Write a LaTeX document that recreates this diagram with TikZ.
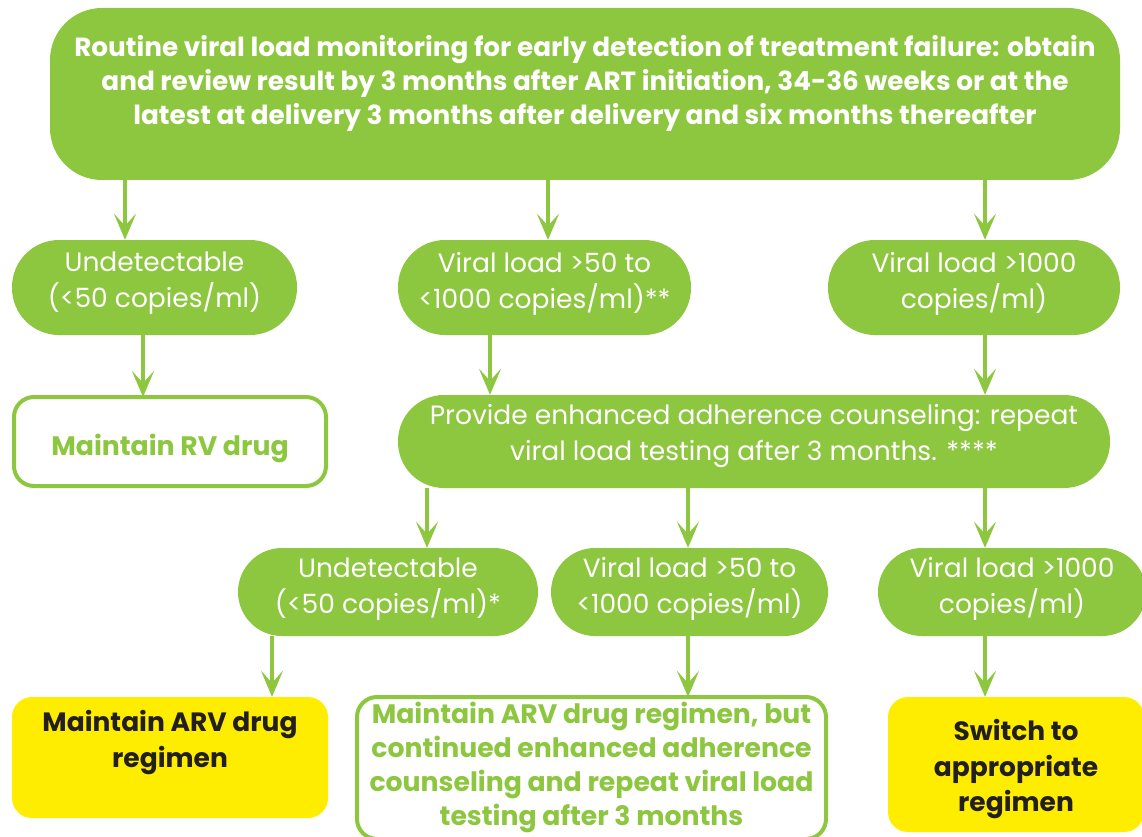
\documentclass[tikz,border=0pt]{standalone}
\usepackage{fontspec}
\setmainfont{Poppins}
\usetikzlibrary{arrows.meta}
\definecolor{vgreen}{HTML}{8DC63F}
\definecolor{vyellow}{HTML}{FFED00}
\definecolor{vdark}{HTML}{231F20}
\begin{document}
\begin{tikzpicture}[x=1pt,y=-1pt,
  pill/.style={fill=vgreen,draw=none,rounded corners=#1,inner sep=0pt},
  wbox/.style={fill=white,draw=vgreen,line width=4pt,rounded corners=20pt,inner sep=0pt},
  ybox/.style={fill=vyellow,draw=none,rounded corners=20pt,inner sep=0pt},
  wtxt/.style={text=white,align=center,font=\fontsize{26.5}{36}\selectfont,inner sep=0pt},
  btxt/.style={text=white,align=center,font=\fontsize{26.3}{34}\selectfont\bfseries,inner sep=0pt},
  gtxt/.style={text=vgreen,align=center,font=\fontsize{26.7}{34}\selectfont\bfseries,inner sep=0pt},
  dtxt/.style={text=vdark,align=center,font=\fontsize{26.5}{35.5}\selectfont\bfseries,inner sep=0pt},
  arr/.style={draw=vgreen,line width=4.5pt,-{Stealth[length=26pt,width=22pt,inset=12pt]}}]
\useasboundingbox (0,0) rectangle (1142,837);
% boxes
\node[pill=52pt,minimum width=1070pt,minimum height=172pt] (top) at (585,94) {};
\node[pill=47pt,minimum width=285pt,minimum height=95pt] (a1) at (154.5,287.5) {};
\node[pill=47pt,minimum width=293pt,minimum height=95pt] (a2) at (544.5,287.5) {};
\node[pill=47pt,minimum width=292pt,minimum height=95pt] (a3) at (974,287.5) {};
\node[wbox,minimum width=312pt,minimum height=89pt] (b1) at (170,441.5) {};
\node[pill=46pt,minimum width=712pt,minimum height=93pt] (b2) at (754,441.5) {};
\node[pill=44pt,minimum width=300pt,minimum height=88pt] (c1) at (388,592) {};
\node[pill=44pt,minimum width=277pt,minimum height=88pt] (c2) at (689.5,592) {};
\node[pill=44pt,minimum width=268pt,minimum height=88pt] (c3) at (1012,592) {};
\node[ybox,minimum width=316pt,minimum height=121pt] (d1) at (170,757.5) {};
\node[wbox,minimum width=469pt,minimum height=142pt] (d2) at (591.5,768) {};
\node[ybox,minimum width=256pt,minimum height=135pt] (d3) at (1016,764.5) {};
% texts
\node[btxt] (ttop) at ([yshift=11pt]top.center) {Routine viral load monitoring for early detection of treatment failure: obtain\\and review result by 3 months after ART initiation, 34-36 weeks or at the\\latest at delivery 3 months after delivery and six months thereafter};
\node[wtxt] (ta1) at ([yshift=4pt]a1.center) {Undetectable\\(<50 copies/ml)};
\node[wtxt] (ta2) at ([yshift=4pt]a2.center) {Viral load >50 to\\<1000 copies/ml)**};
\node[wtxt] (ta3) at ([yshift=4pt]a3.center) {Viral load >1000\\copies/ml)};
\node[gtxt] (tb1) at ([yshift=-7pt]b1.center) {Maintain RV drug};
\node[wtxt] (tb2) at ([yshift=6pt]b2.center) {Provide enhanced adherence counseling: repeat\\viral load testing after 3 months. ****};
\node[wtxt] (tc1) at ([yshift=3pt]c1.center) {Undetectable\\(<50 copies/ml)*};
\node[wtxt] (tc2) at ([yshift=3pt]c2.center) {Viral load >50 to\\<1000 copies/ml)};
\node[wtxt] (tc3) at ([yshift=3pt]c3.center) {Viral load >1000\\copies/ml)};
\node[dtxt] (td1) at ([yshift=15pt]d1.center) {Maintain ARV drug\\regimen};
\node[gtxt] (td2) at ([yshift=1pt]d2.center) {Maintain ARV drug regimen, but\\continued enhanced adherence\\counseling and repeat viral load\\testing after 3 months};
\node[dtxt] (td3) at ([yshift=-5pt]d3.center) {Switch to\\appropriate\\regimen};
% arrow columns
\coordinate (x1) at (125,0);
\coordinate (x2) at (548,0);
\coordinate (x3) at (985,0);
\coordinate (x4) at (143,0);
\coordinate (x5) at (490,0);
\coordinate (x6) at (427,0);
\coordinate (x7) at (688,0);
\coordinate (x8) at (272,0);
\draw[arr] (top.south -| x1) -- (a1.north -| x1);
\draw[arr] (top.south -| x2) -- (a2.north -| x2);
\draw[arr] (top.south -| x3) -- (a3.north -| x3);
\draw[arr] (a1.south -| x4) -- ([yshift=-2pt]b1.north -| x4);
\draw[arr] (a2.south -| x5) -- (b2.north -| x5);
\draw[arr] (a3.south -| x3) -- (b2.north -| x3);
\draw[arr] (b2.south -| x6) -- (c1.north -| x6);
\draw[arr] (b2.south -| x7) -- (c2.north -| x7);
\draw[arr] (b2.south -| x3) -- (c3.north -| x3);
\draw[arr] (c1.south -| x8) -- (d1.north -| x8);
\draw[arr] (c2.south -| x7) -- ([yshift=-2pt]d2.north -| x7);
\draw[arr] (c3.south -| x3) -- (d3.north -| x3);
\end{tikzpicture}
\end{document}
